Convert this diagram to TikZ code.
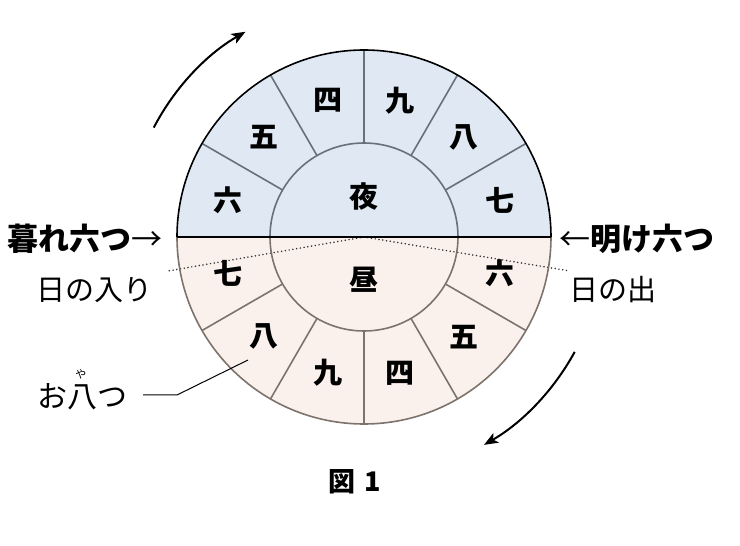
\documentclass[tikz,border=0pt]{standalone}
\usepackage{fontspec}
\setmainfont{Noto Sans CJK JP}
\usetikzlibrary{arrows.meta}
\definecolor{nightfill}{HTML}{DFE8F3}
\definecolor{nightline}{HTML}{66717D}
\definecolor{dayfill}{HTML}{FBF1EC}
\definecolor{dayline}{HTML}{7D736C}
\tikzstyle{hour}=[inner sep=0pt, font=\bfseries\fontsize{29}{29}\selectfont]
\tikzstyle{note}=[inner sep=0pt, font=\fontsize{29}{29}\selectfont]
\tikzstyle{bell}=[inner sep=0pt, font=\bfseries\fontsize{31}{31}\selectfont]
\tikzstyle{turn}=[line width=2pt, -{Stealth[length=14pt, width=11pt, inset=3.5pt]}]
\tikzstyle{sun}=[black!80, line width=1.7pt, dash pattern=on 0pt off 3.8pt, line cap=round]

\begin{document}
\begin{tikzpicture}[
    every node/.style={},
    x=1pt, y=1pt]

      \useasboundingbox (-364,-309) rectangle (376,237);

      \coordinate (O) at (0,0);
      \coordinate (W) at (-187,0);
      \coordinate (E) at (187,0);
      \coordinate (sunset) at (-196,-34);
      \coordinate (sunrise) at (206,-34);

      % night / day
      \fill[nightfill] (E) arc (0:180:187) -- cycle;
      \fill[dayfill] (W) arc (180:360:187) -- cycle;

      \draw[sun] (O) -- (sunset);
      \draw[sun] (O) -- (sunrise);

      \foreach \a in {30,60,...,150}
        \draw[nightline, line width=1.6pt] (\a:94) -- (\a:187);
      \foreach \a in {-30,-60,...,-150}
        \draw[dayline, line width=1.6pt] (\a:94) -- (\a:187);

      \draw[nightline, line width=1.6pt] (94,0) arc (0:180:94);
      \draw[dayline, line width=1.6pt] (-94,0) arc (180:360:94);
      \draw[dayline, line width=1.6pt] (W) arc (180:360:187);
      \draw[line width=1.6pt] (E) arc (0:180:187);
      \draw[line width=2.6pt] (W) -- (E);

      % hours
      \foreach \a/\t/\n in {165/六/n6, 135/五/n5, 105/四/n4, 75/九/n9, 45/八/n8, 15/七/n7}
        \node[hour] (\n) at (\a:141) {\t};
      \foreach \a/\t/\n in {-165/七/d7, -135/八/d8, -105/九/d9, -75/四/d4, -45/五/d5, -15/六/d6}
        \node[hour] (\n) at (\a:141) {\t};

      \node[hour] (night) at (0,41) {夜};
      \node[hour] (day) at (0,-43) {昼};

      \node[bell] (kure) at (-279,-2) {暮れ六つ{\mdseries →}};
      \node[bell] (ake) at (273,-2) {{\mdseries ←}明け六つ};

      \node[note] (iri) at (-269,-53) {日の入り};
      \node[note] (de) at (249,-53) {日の出};

      % oyatsu
      \node[note, font=\fontsize{30}{30}\selectfont] (oyatsu) at (-281,-160) {お八つ};
      \node[inner sep=0pt, font=\fontsize{11}{11}\selectfont] (ya) at (-283,-137) {や};
      \coordinate (kink) at (-187,-158);
      \coordinate (tip) at (-116,-123);
      \draw[line width=1pt, shorten <=15pt] (oyatsu.east |- kink) -- (kink) -- (tip);

      \draw[turn] (152.5:237) arc (152.5:120:237);
      \draw[turn] (-28.6:240) arc (-28.6:-60:240);

      \node[inner sep=0pt, font=\bfseries\fontsize{27}{27}\selectfont] (fig) at (-9,-245) {図\hspace{9pt}1};

    \end{tikzpicture}
\end{document}
